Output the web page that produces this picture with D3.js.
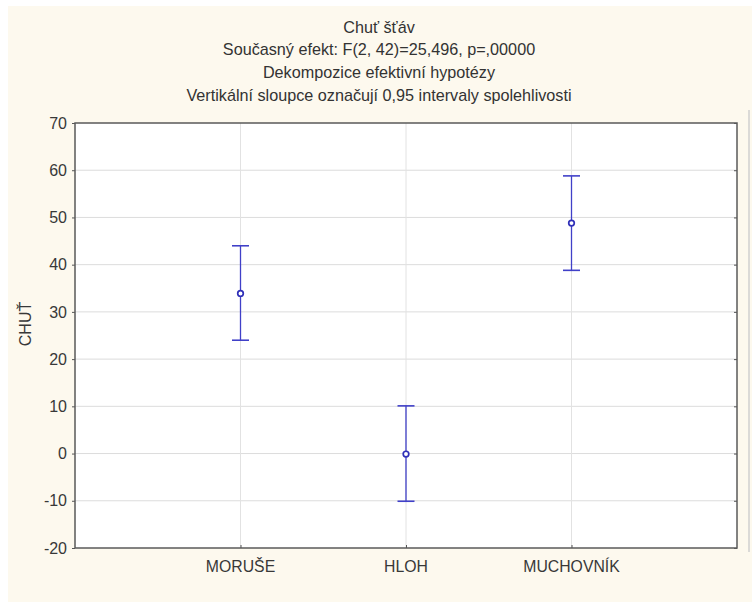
<!DOCTYPE html>
<html>
<head>
<meta charset="utf-8">
<script src="https://cdn.jsdelivr.net/npm/d3@7"></script>
<style>
  html, body { margin: 0; padding: 0; background: #ffffff; }
  svg { display: block; }
</style>
</head>
<body>
<svg id="chart" width="752" height="602"></svg>
<script>
// Group means of taste score with 0.95 confidence limits
const categories = ["MORUŠE", "HLOH", "MUCHOVNÍK"];
const means = [33.9, -0.1, 48.8];
const lower = [24.0, -10.1, 38.8];
const upper = [44.0, 10.1, 58.8];
const yTicks = [-20, -10, 0, 10, 20, 30, 40, 50, 60, 70];
const titleLines = [
  "Chuť šťáv",
  "Současný efekt: F(2, 42)=25,496, p=,00000",
  "Dekompozice efektivní hypotézy",
  "Vertikální sloupce označují 0,95 intervaly spolehlivosti"
];
const yLabel = "CHUŤ";

const W = 752, H = 602;
const plot = { left: 75, top: 123, right: 737, bottom: 548 };
const font = "'Liberation Sans', Arial, sans-serif";
const textColor = "#383838";
const blue = "#4040c8";

const svg = d3.select("#chart");

// page background
svg.append("rect").attr("width", W).attr("height", H).attr("fill", "#ffffff");
svg.append("rect").attr("x", 8).attr("y", 6).attr("width", W - 8).attr("height", H - 6)
  .attr("fill", "#fdf9ee");

const x = d3.scalePoint().domain(categories)
  .range([plot.left, plot.right]).padding(1);
const y = d3.scaleLinear().domain([-20, 70]).range([plot.bottom, plot.top]);

// plot area
svg.append("rect")
  .attr("x", plot.left).attr("y", plot.top)
  .attr("width", plot.right - plot.left).attr("height", plot.bottom - plot.top)
  .attr("fill", "#ffffff");

// grid
const grid = svg.append("g");
grid.selectAll("line.h").data(yTicks.slice(1, -1)).join("line")
  .attr("x1", plot.left).attr("x2", plot.right)
  .attr("y1", d => y(d)).attr("y2", d => y(d))
  .attr("stroke", "#dcdcdc").attr("stroke-width", 1);
grid.selectAll("line.v").data(categories).join("line")
  .attr("x1", d => x(d)).attr("x2", d => x(d))
  .attr("y1", plot.top).attr("y2", plot.bottom)
  .attr("stroke", "#e2e2e2").attr("stroke-width", 1);

// axes (plain hyphen for negative labels)
const axisL = d3.axisLeft(y).tickValues(yTicks).tickSize(3).tickPadding(5)
  .tickFormat(d => String(d));
const gL = svg.append("g").attr("transform", `translate(${plot.left},0)`).call(axisL);
const axisR = d3.axisLeft(y).tickValues(yTicks).tickSize(3).tickFormat("");
const gR = svg.append("g").attr("transform", `translate(${plot.right},0)`).call(axisR);
const axisB = d3.axisTop(x).tickSize(3).tickFormat("");
const gB = svg.append("g").attr("transform", `translate(0,${plot.bottom})`).call(axisB);
[gL, gR, gB].forEach(g => {
  g.select(".domain").remove();
  g.selectAll(".tick line").attr("stroke", "#555");
});
gL.selectAll(".tick text")
  .attr("font-family", font).attr("font-size", 16).attr("fill", textColor);

// x category labels
svg.append("g").selectAll("text").data(categories).join("text")
  .attr("x", d => x(d)).attr("y", 572)
  .attr("text-anchor", "middle")
  .attr("font-family", font).attr("font-size", 15.8).attr("fill", textColor)
  .text(d => d);

// frame
svg.append("rect")
  .attr("x", plot.left).attr("y", plot.top)
  .attr("width", plot.right - plot.left).attr("height", plot.bottom - plot.top)
  .attr("fill", "none").attr("stroke", "#5a5a5a").attr("stroke-width", 1.5);

// thin separator at right edge
svg.append("line")
  .attr("x1", 749).attr("x2", 749).attr("y1", 110).attr("y2", 552)
  .attr("stroke", "#cfcfcf").attr("stroke-width", 1.5);

// y-axis title
svg.append("text")
  .attr("transform", `translate(31,324) rotate(-90)`)
  .attr("text-anchor", "middle")
  .attr("font-family", font).attr("font-size", 16).attr("fill", textColor)
  .text(yLabel);

// title block
svg.append("g").selectAll("text").data(titleLines).join("text")
  .attr("x", 379).attr("y", (d, i) => 32.5 + i * 22.7)
  .attr("text-anchor", "middle")
  .attr("font-family", font).attr("font-size", 16.2).attr("fill", "#333")
  .text(d => d);

// confidence intervals and means
const data = categories.map((c, i) => ({ c, m: means[i], lo: lower[i], hi: upper[i] }));
const marks = svg.append("g");
const capW = 8.5;
marks.selectAll("line.bar").data(data).join("line")
  .attr("x1", d => x(d.c)).attr("x2", d => x(d.c))
  .attr("y1", d => y(d.lo)).attr("y2", d => y(d.hi))
  .attr("stroke", blue).attr("stroke-width", 1.3);
marks.selectAll("line.capHi").data(data).join("line")
  .attr("x1", d => x(d.c) - capW).attr("x2", d => x(d.c) + capW)
  .attr("y1", d => y(d.hi)).attr("y2", d => y(d.hi))
  .attr("stroke", blue).attr("stroke-width", 1.6);
marks.selectAll("line.capLo").data(data).join("line")
  .attr("x1", d => x(d.c) - capW).attr("x2", d => x(d.c) + capW)
  .attr("y1", d => y(d.lo)).attr("y2", d => y(d.lo))
  .attr("stroke", blue).attr("stroke-width", 1.6);
marks.selectAll("circle").data(data).join("circle")
  .attr("cx", d => x(d.c)).attr("cy", d => y(d.m)).attr("r", 2.8)
  .attr("fill", "#ffffff").attr("stroke", "#3030b8").attr("stroke-width", 1.7);
</script>
</body>
</html>
